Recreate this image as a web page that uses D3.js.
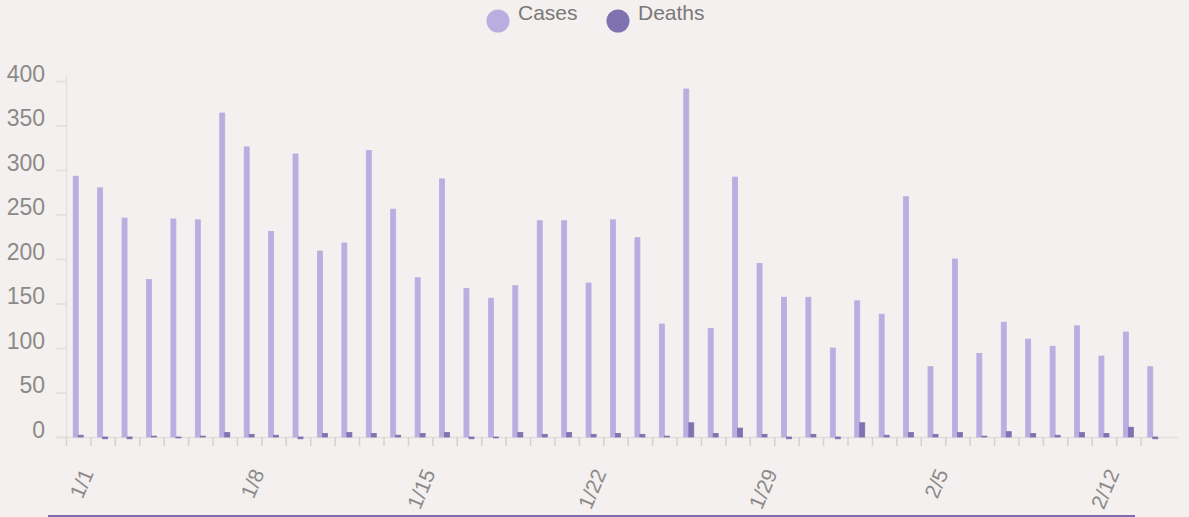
<!DOCTYPE html>
<html>
<head>
<meta charset="utf-8">
<script src="https://cdn.jsdelivr.net/npm/d3@7"></script>
<style>
  html, body { margin: 0; padding: 0; background: #f3f0ef; }
  svg { display: block; font-family: "Liberation Sans", Arial, sans-serif; }
</style>
</head>
<body>
<svg id="chart" width="1189" height="517"></svg>
<script>
// daily counts, 1/1 .. 2/14
const days = [
  '1/1','1/2','1/3','1/4','1/5','1/6','1/7','1/8','1/9','1/10','1/11','1/12','1/13','1/14','1/15',
  '1/16','1/17','1/18','1/19','1/20','1/21','1/22','1/23','1/24','1/25','1/26','1/27','1/28','1/29','1/30',
  '1/31','2/1','2/2','2/3','2/4','2/5','2/6','2/7','2/8','2/9','2/10','2/11','2/12','2/13','2/14'
];
const cases = [
  293, 280, 246, 177, 245, 244, 364, 326, 231, 318, 209, 218, 322, 256, 179,
  290, 167, 156, 170, 243, 243, 173, 244, 224, 127, 391, 122, 292, 195, 157,
  157, 100, 153, 138, 270, 79, 200, 94, 129, 110, 102, 125, 91, 118, 79
];
const deaths = [
  2, -2, -2, 1, -1, 1, 5, 3, 2, -2, 4, 5, 4, 2, 4,
  5, -2, -1, 5, 3, 5, 3, 4, 3, 1, 16, 4, 10, 3, -2,
  3, -2, 16, 2, 5, 3, 5, 1, 6, 4, 2, 5, 4, 11, -2
];
const yTicks = [0, 50, 100, 150, 200, 250, 300, 350, 400];
const labelDays = ['1/1', '1/8', '1/15', '1/22', '1/29', '2/5', '2/12'];
const seriesNames = ['Cases', 'Deaths'];
const colors = ['#b9aee0', '#7e72b0'];

const rows = days.map((d, i) => ({ day: d, values: [cases[i], deaths[i]] }));

const svg = d3.select('#chart');

const x = d3.scaleBand().domain(days).range([66, 1165]);
const sub = d3.scaleBand().domain([0, 1]).range([0, x.bandwidth()]).paddingOuter(1.44);
const y = d3.scaleLinear().domain([0, 400]).range([437, 81]);

// y axis
const yAxis = svg.append('g');
yAxis.append('line')
  .attr('x1', 66.5).attr('x2', 66.5).attr('y1', 75).attr('y2', 437)
  .attr('stroke', '#e6e1e0').attr('stroke-width', 1.5);
yAxis.selectAll('line.tick').data(yTicks).join('line')
  .attr('class', 'tick')
  .attr('x1', 56).attr('x2', 66)
  .attr('y1', d => y(d) + 0.5).attr('y2', d => y(d) + 0.5)
  .attr('stroke', '#e2dddc').attr('stroke-width', 1.5);
yAxis.selectAll('text').data(yTicks).join('text')
  .attr('x', 45).attr('y', d => y(d) + 0.5)
  .attr('text-anchor', 'end')
  .attr('fill', '#8c8a89')
  .attr('font-size', 23)
  .text(d => d);

// x axis
const xAxis = svg.append('g');
xAxis.append('line')
  .attr('x1', 56).attr('x2', 1178).attr('y1', 437.5).attr('y2', 437.5)
  .attr('stroke', '#e2dddc').attr('stroke-width', 1.5);
xAxis.selectAll('line.tick').data(days).join('line')
  .attr('class', 'tick')
  .attr('x1', d => x(d) + 0.5).attr('x2', d => x(d) + 0.5)
  .attr('y1', 437).attr('y2', 446)
  .attr('stroke', '#d6d1d0').attr('stroke-width', 1.5);
xAxis.selectAll('text').data(labelDays).join('text')
  .attr('transform', d => `translate(${x(d) + x.bandwidth() / 2 + 9},470) rotate(-67)`)
  .attr('text-anchor', 'end')
  .attr('dy', '0.35em')
  .attr('fill', '#8c8a89')
  .attr('font-size', 21)
  .text(d => d);

// bars
const groups = svg.append('g').selectAll('g').data(rows).join('g')
  .attr('transform', d => `translate(${x(d.day)},0)`);
groups.selectAll('rect').data(d => d.values).join('rect')
  .attr('x', (v, i) => sub(i))
  .attr('width', sub.bandwidth())
  .attr('y', v => Math.min(y(v), y(0)))
  .attr('height', v => Math.abs(y(v) - y(0)))
  .attr('fill', (v, i) => colors[i])
  .attr('stroke', (v, i) => colors[i])
  .attr('stroke-width', 0.8);

// legend
const legend = svg.append('g');
const legendX = [498, 618];
seriesNames.forEach((name, i) => {
  legend.append('circle')
    .attr('cx', legendX[i]).attr('cy', 21).attr('r', 11.5)
    .attr('fill', colors[i]);
  legend.append('text')
    .attr('x', legendX[i] + 20).attr('y', 20)
    .attr('fill', '#7a7877')
    .attr('font-size', 21)
    .text(name);
});

// purple rule at bottom
svg.append('line')
  .attr('x1', 48).attr('x2', 1135).attr('y1', 516).attr('y2', 516)
  .attr('stroke', '#7a6db0').attr('stroke-width', 2);
</script>
</body>
</html>
